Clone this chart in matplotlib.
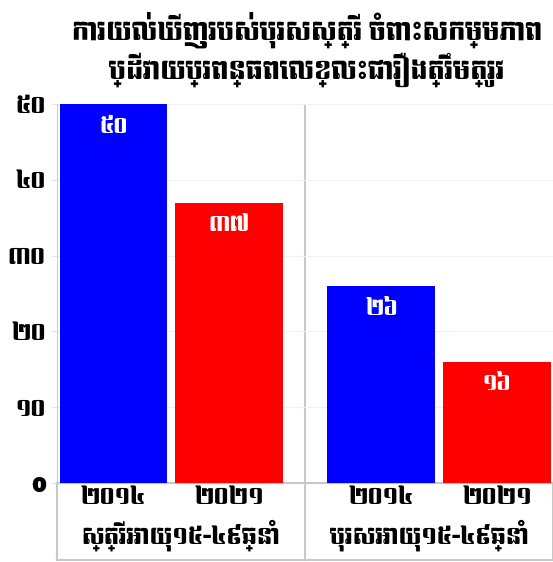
import numpy as np
import matplotlib
matplotlib.use("Agg")
import matplotlib.pyplot as plt
from matplotlib import font_manager
from matplotlib.ft2font import FT2Font

# look for any installed font that can draw Khmer
khmer_fonts = []
for f in font_manager.fontManager.ttflist:
    try:
        if 0x1780 in FT2Font(f.fname).get_charmap():
            khmer_fonts.append(f.name)
    except Exception:
        pass
families = sorted(set(khmer_fonts)) + ["DejaVu Sans"]
plt.rcParams['font.family'] = families

title = "ការយល់ឃើញរបស់បុរសស្ត្រី ចំពោះសកម្មភាព\nប្ដីវាយប្រពន្ធពេលខ្លះជារឿងត្រឹមត្រូវ"
groups = ["ស្ត្រីអាយុ១៥-៤៩ឆ្នាំ", "បុរសអាយុ១៥-៤៩ឆ្នាំ"]
years = ["២០១៤", "២០២១"]
values_2014 = [50, 26]
values_2021 = [37, 16]
value_labels_2014 = ["៥០", "២៦"]
value_labels_2021 = ["៣៧", "១៦"]
yticks = [0, 10, 20, 30, 40, 50]
ytick_labels = ["0", "១០", "២០", "៣០", "៤០", "៥០"]

W, H = 553, 562
fig = plt.figure(figsize=(W / 100, H / 100), dpi=100)
ax = fig.add_axes([57 / W, 1 - 483 / H, 496 / W, (483 - 104) / H])

starts = [0.01, 1.09]
w = 0.435
for i in range(2):
    xb = starts[i] + 0.218
    xr = starts[i] + 0.684
    ax.bar(xb, values_2014[i], width=w, color="#0000ff", zorder=3)
    ax.bar(xr, values_2021[i], width=w, color="#ff0000", zorder=3)
    ax.text(xb, values_2014[i] - 3.0, value_labels_2014[i], color="white",
            ha="center", va="center", fontsize=15, zorder=4)
    ax.text(xr, values_2021[i] - 3.0, value_labels_2021[i], color="white",
            ha="center", va="center", fontsize=15, zorder=4)
    # year labels under the bars
    ax.text(xb, -1.9, years[0], ha="center", va="center", fontsize=16,
            clip_on=False)
    ax.text(xr, -1.9, years[1], ha="center", va="center", fontsize=16,
            clip_on=False)
    ax.text(i + 0.5, -6.9, groups[i], ha="center", va="center", fontsize=16,
            clip_on=False)

ax.set_xlim(0, 2)
ax.set_ylim(0, 50)
ax.set_yticks(yticks)
ax.set_yticklabels(ytick_labels, fontsize=16)
ax.tick_params(axis="y", length=4, color="#e4e4e4", pad=4)
ax.set_xticks([])
ax.grid(axis="y", color="#f0f0f0", linewidth=0.8, zorder=0)
for s in ["top", "right", "bottom"]:
    ax.spines[s].set_visible(False)
ax.spines["left"].set_color("#c8cce6")

# separator between the two groups and the label frame below
gray = "#c8c8c8"
ax.plot([1, 1], [0, 50], color=gray, lw=1.5, zorder=1)
for x in [0, 1, 2]:
    ax.plot([x, x], [0, -10.2], color=gray, lw=1.5, clip_on=False)
ax.plot([0, 2], [0, 0], color=gray, lw=1.5, clip_on=False, zorder=2)
ax.plot([0, 2], [-10.2, -10.2], color=gray, lw=1.5, clip_on=False)

fig.text(0.555, 1 - 30 / H, title.split("\n")[0], ha="center", va="center",
         fontsize=18)
fig.text(0.555, 1 - 70 / H, title.split("\n")[1], ha="center", va="center",
         fontsize=18)

fig.savefig("out.png", dpi=100)
